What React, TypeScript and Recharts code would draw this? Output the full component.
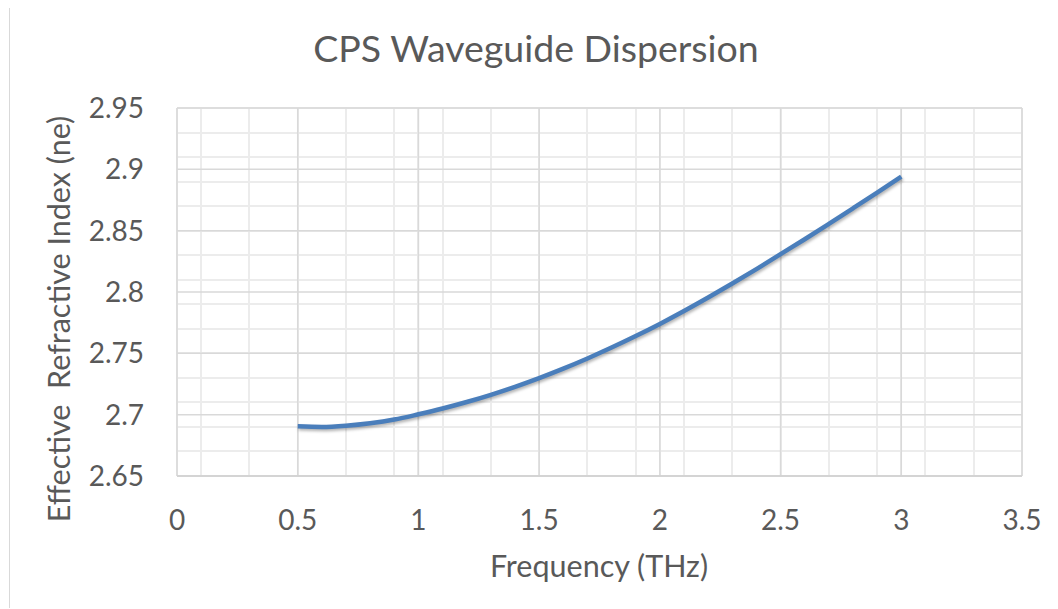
import { LineChart, Line, XAxis, YAxis, CartesianGrid } from 'recharts';

// frequency in THz
const frequency = [
  0.5, 0.6, 0.7, 0.8, 0.9, 1.0, 1.1, 1.2, 1.3, 1.4, 1.5, 1.6, 1.7,
  1.8, 1.9, 2.0, 2.1, 2.2, 2.3, 2.4, 2.5, 2.6, 2.7, 2.8, 2.9, 3.0,
];
// effective refractive index ne
const effectiveIndex = [
  2.6905, 2.69, 2.691, 2.693, 2.696, 2.7003, 2.705, 2.7103, 2.7162,
  2.7227, 2.7298, 2.7375, 2.7458, 2.7547, 2.7641, 2.774, 2.7845, 2.7955,
  2.8069, 2.8187, 2.8309, 2.843, 2.8555, 2.8682, 2.881, 2.894,
];

const xTicks = [0, 0.5, 1, 1.5, 2, 2.5, 3, 3.5];
const yTicks = [2.65, 2.7, 2.75, 2.8, 2.85, 2.9, 2.95];
const xMinor = Array.from({ length: 36 }, (_, i) => +(i * 0.1).toFixed(1));
const yMinor = Array.from({ length: 31 }, (_, i) => +(2.65 + i * 0.01).toFixed(2));

const data = frequency.map((f, i) => ({ f, ne: effectiveIndex[i] }));

const FONT = 'Lato, "Open Sans", sans-serif';
const TEXT = '#595959';

const XTick = (props: any) => (
  <text x={props.x} y={props.y + 54} textAnchor="middle" fill={TEXT} fontSize={28} fontFamily={FONT}>
    {props.payload.value}
  </text>
);

const YTick = (props: any) => (
  <text x={props.x - 33} y={props.y + 10} textAnchor="end" fill={TEXT} fontSize={28} fontFamily={FONT}>
    {props.payload.value}
  </text>
);

export default function App() {
  return (
    <div
      style={{
        position: 'relative',
        width: 1050,
        height: 601,
        marginLeft: 1,
        marginTop: -1,
        borderLeft: '1px solid #d9d9d9',
        borderTop: '1px solid #d9d9d9',
        boxSizing: 'border-box',
        background: '#fff',
      }}
    >
      <LineChart width={1049} height={600} data={data} margin={{ top: 100, right: 37, left: 0, bottom: 0 }}>
        <CartesianGrid
          stroke="#ececec"
          strokeWidth={2}
          shapeRendering="crispEdges"
          verticalValues={xMinor}
          horizontalValues={yMinor}
        />
        <CartesianGrid stroke="#d9d9d9" strokeWidth={1.5} verticalValues={xTicks} horizontalValues={yTicks} />
        <XAxis
          dataKey="f"
          type="number"
          domain={[0, 3.5]}
          ticks={xTicks}
          height={132}
          tickLine={false}
          tickSize={0}
          tickMargin={0}
          stroke="#d0d0d0"
          strokeWidth={1.5}
          tick={<XTick />}
        />
        <YAxis
          type="number"
          domain={[2.65, 2.95]}
          ticks={yTicks}
          width={167}
          axisLine={false}
          tickLine={false}
          tickSize={0}
          tickMargin={0}
          tick={<YTick />}
        />
        <Line
          dataKey="ne"
          type="monotone"
          stroke="#4a7ebb"
          strokeWidth={4.5}
          dot={false}
          isAnimationActive={false}
          style={{ filter: 'drop-shadow(1px 2px 1.5px rgba(0,0,0,0.3))' }}
        />
      </LineChart>
      <svg
        width={1050}
        height={601}
        style={{ position: 'absolute', left: -1, top: -1, pointerEvents: 'none' }}
      >
        <text x={527} y={55} textAnchor="middle" fill={TEXT} fontSize={37.5} fontFamily={FONT}>
          CPS Waveguide Dispersion
        </text>
        <text x={590} y={570} textAnchor="middle" fill={TEXT} fontSize={30.5} fontFamily={FONT}>
          Frequency (THz)
        </text>
        <text
          transform="translate(61 312) rotate(-90)"
          textAnchor="middle"
          fill={TEXT}
          fontSize={30.5}
          fontFamily={FONT}
          style={{ whiteSpace: 'pre' }}
        >
          {'Effective  Refractive Index (ne)'}
        </text>
      </svg>
    </div>
  );
}
